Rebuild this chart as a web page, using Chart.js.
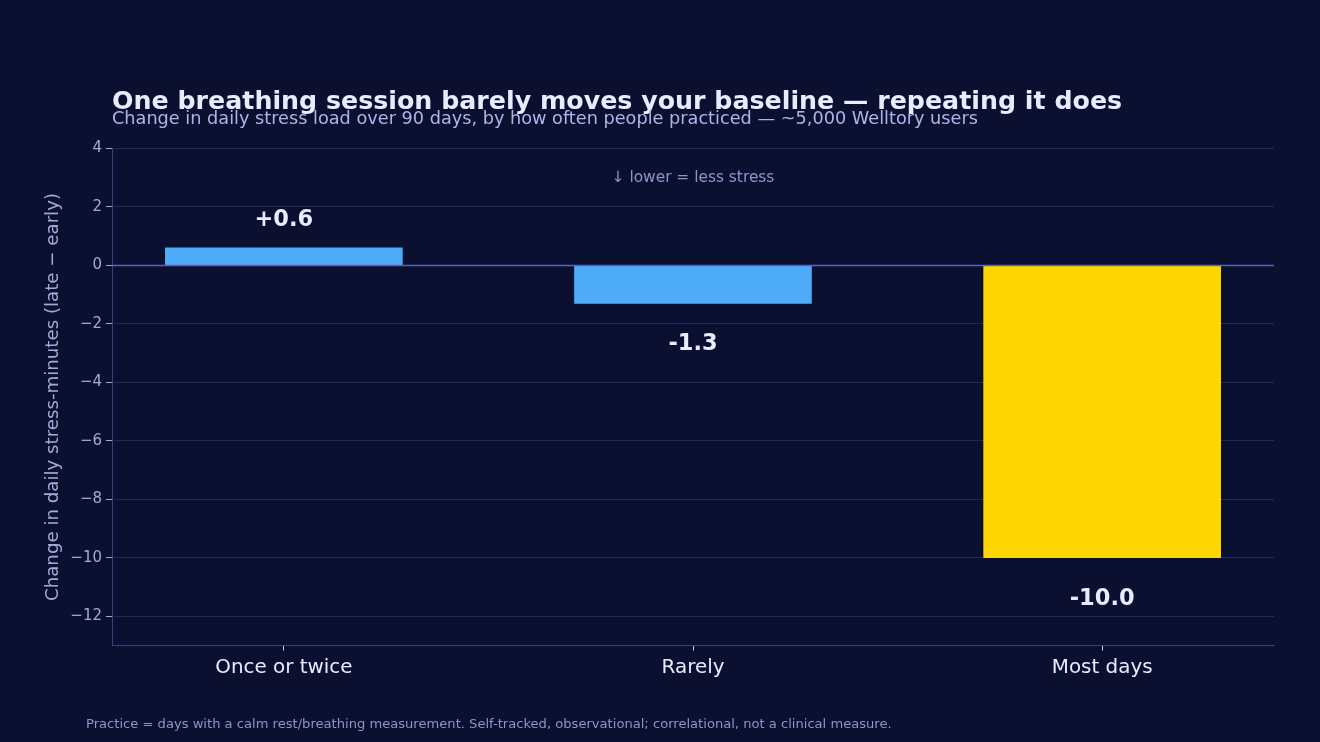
<!DOCTYPE html>
<html><head><meta charset="utf-8">
<script src="https://cdn.jsdelivr.net/npm/chart.js@4/dist/chart.umd.min.js"></script>
<style>html,body{margin:0;padding:0;background:#0b1030;}#wrap{width:1320px;height:742px;position:relative;}</style>
</head><body><div id="wrap"><canvas id="c" width="1320" height="742"></canvas></div>
<script>
const categories = ["Once or twice", "Rarely", "Most days"];
const values = [0.6, -1.3, -10.0];
const valueLabels = ["+0.6", "-1.3", "-10.0"];
const yTicks = [-12, -10, -8, -6, -4, -2, 0, 2, 4];
const barColors = ["#4dabf7", "#4dabf7", "#ffd600"];

const F = '"DejaVu Sans", sans-serif';
const textPlugin = {
  id: 'texts',
  beforeDraw(chart) {
    const c = chart.ctx;
    c.save();
    c.fillStyle = '#0b1030';
    c.fillRect(0, 0, chart.width, chart.height);
    c.restore();
  },
  afterDatasetsDraw(chart) {
    const c = chart.ctx, y = chart.scales.y, x = chart.scales.x, a = chart.chartArea;
    c.save();
    // zero line
    c.strokeStyle = '#5566b8'; c.lineWidth = 1.5;
    c.beginPath(); c.moveTo(a.left, y.getPixelForValue(0)); c.lineTo(a.right, y.getPixelForValue(0)); c.stroke();
    // value labels
    c.font = 'bold 22.5px ' + F; c.fillStyle = '#e8ecff'; c.textAlign = 'center'; c.textBaseline = 'middle';
    values.forEach((v, i) => {
      const px = x.getPixelForValue(i);
      const py = y.getPixelForValue(v) + (v >= 0 ? -28 : 41);
      c.fillText(valueLabels[i], px, py);
    });
    // annotation
    c.font = '15.4px ' + F; c.fillStyle = '#8a96c8';
    c.fillText('\u2193 lower = less stress', (a.left + a.right) / 2, 178);
    // y axis title
    c.save();
    c.translate(53, (a.top + a.bottom) / 2);
    c.rotate(-Math.PI / 2);
    c.font = '18.2px ' + F; c.fillStyle = '#a0acd8';
    c.fillText('Change in daily stress-minutes (late \u2212 early)', 0, 0);
    c.restore();
    // title
    c.textAlign = 'left'; c.textBaseline = 'alphabetic';
    c.font = 'bold 25.3px ' + F; c.fillStyle = '#e8ecff';
    c.fillText('One breathing session barely moves your baseline \u2014 repeating it does', 112, 109);
    c.font = '17.7px ' + F; c.fillStyle = '#a9b8e8';
    c.fillText('Change in daily stress load over 90 days, by how often people practiced \u2014 ~5,000 Welltory users', 112, 124);
    c.font = '13.1px ' + F; c.fillStyle = '#8a96c8';
    c.fillText('Practice = days with a calm rest/breathing measurement. Self-tracked, observational; correlational, not a clinical measure.', 86, 728);
    c.restore();
  }
};

new Chart(document.getElementById('c'), {
  type: 'bar',
  data: {
    datasets: [{
      data: values.map((v, i) => ({ x: i, y: v })),
      backgroundColor: barColors,
      barThickness: 237,
      borderWidth: 0
    }]
  },
  options: {
    responsive: false,
    animation: false,
    devicePixelRatio: 1,
    layout: { padding: { top: 148.5, right: 46, bottom: 0, left: 0 } },
    plugins: { legend: { display: false }, tooltip: { enabled: false } },
    scales: {
      x: {
        type: 'linear', min: -0.42, max: 2.42, offset: false,
        afterFit(s) { s.height = 96.5; },
        afterBuildTicks(s) { s.ticks = categories.map((_, i) => ({ value: i })); },
        grid: { offset: false, drawOnChartArea: false, drawTicks: true, tickLength: 5, color: '#c8d0f0' },
        border: { display: true, color: '#34437f', width: 1 },
        ticks: { callback: (v) => categories[v] ?? '', color: '#e8ecff', font: { family: F, size: 19.9 }, padding: 5, maxRotation: 0 }
      },
      y: {
        min: -13, max: 4,
        afterFit(s) { s.width = 112; },
        afterBuildTicks(s) { s.ticks = yTicks.map(v => ({ value: v })); },
        grid: { color: '#1f2b5e', lineWidth: 1, drawTicks: true, tickLength: 6, tickColor: '#a0acd8' },
        border: { display: true, color: '#34437f', width: 1 },
        ticks: { callback: (v) => String(v).replace('-', '\u2212'), color: '#a0acd8', font: { family: F, size: 15 }, padding: 4 }
      }
    }
  },
  plugins: [textPlugin]
});
</script></body></html>
